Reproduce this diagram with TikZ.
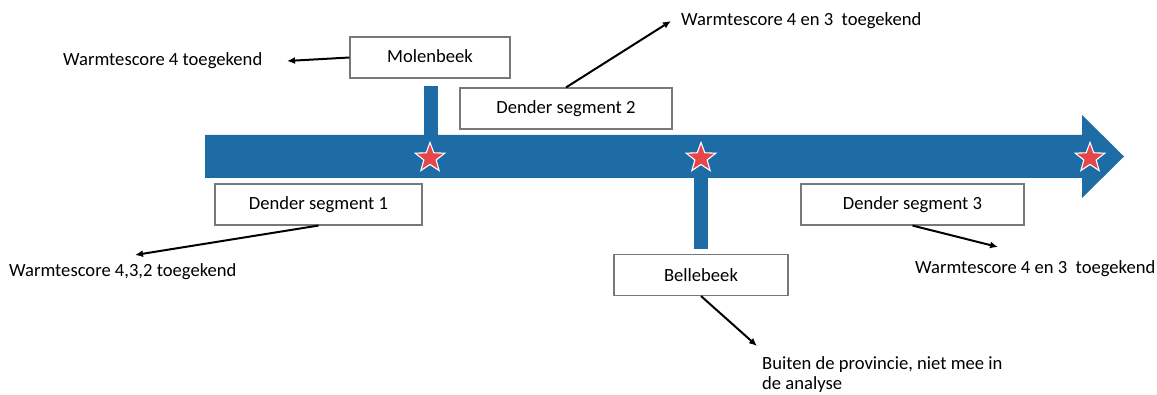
\documentclass[tikz,border=0pt]{standalone}
\usepackage{fontspec}
\setmainfont{Carlito}
\usetikzlibrary{shapes.geometric,arrows.meta}
\definecolor{rivierblauw}{RGB}{30,108,166}
\definecolor{sterrood}{RGB}{230,70,74}
\definecolor{kaderlijn}{RGB}{120,120,120}

\begin{document}
\begin{tikzpicture}[x=1pt,y=-1pt,
    >={Latex[length=8pt,width=7pt]},
    kader/.style={draw=kaderlijn,line width=1.1pt,fill=white,minimum height=41pt,inner sep=0pt,font=\fontsize{18.6}{20}\selectfont},
    uitleg/.style={inner sep=0pt,font=\fontsize{18.6}{20}\selectfont},
    ster/.style={star,star points=5,star point ratio=2.4,minimum size=31pt,inner sep=0pt,fill=sterrood,draw=white,line width=1.1pt},
    pijl/.style={->,line width=2pt}]
    \useasboundingbox (0,0) rectangle (1157,395);
    % de rivier
    \fill[rivierblauw] (205,135) -- (1082,135) -- (1082,115) -- (1124,156.5) -- (1082,198) -- (1082,178) -- (205,178) -- cycle;
    \fill[rivierblauw] (424,86) rectangle (438,136);
    \fill[rivierblauw] (694,177) rectangle (708,249);
    \node[ster] (s1) at (430,158) {};
    \node[ster] (s2) at (701,158) {};
    \node[ster] (s3) at (1090,158) {};

    % kaders
    \node[kader,minimum width=160pt] (molen) at (430,57.5) {\raisebox{3pt}{Molenbeek}};
    \node[kader,minimum width=212pt] (seg2) at (566,108.5) {Dender segment 2};
    \node[kader,minimum width=207pt] (seg1) at (318.5,204.5) {\raisebox{2pt}{Dender segment 1}};
    \node[kader,minimum width=223pt] (seg3) at (912.5,204.5) {\raisebox{2pt}{Dender segment 3}};
    \node[kader,minimum width=174pt] (belle) at (701,275) {Bellebeek};

    % uitleg
    \node[uitleg,anchor=west] (w4) at (63,61) {Warmtescore 4 toegekend};
    \node[uitleg,anchor=west] (w43a) at (681,21) {Warmtescore 4 en 3\ \ toegekend};
    \node[uitleg,anchor=west] (w432) at (9,272) {Warmtescore 4,3,2 toegekend};
    \node[uitleg,anchor=west] (w43b) at (915,269) {Warmtescore 4 en 3\ \ toegekend};
    \node[uitleg,anchor=west,align=left] (buiten) at (762,375) {Buiten de provincie, niet mee in\\de analyse};

    \coordinate (t1) at (287,61);
    \coordinate (t2) at (671,21);
    \coordinate (t3) at (135,255);
    \coordinate (t4) at (998,247);
    \coordinate (t5) at (757,346);
    \draw[pijl] (molen.west) -- (t1);
    \draw[pijl] (seg2.north) -- (t2);
    \draw[pijl] (seg1.south) -- (t3);
    \draw[pijl] (seg3.south) -- (t4);
    \draw[pijl] (belle.south) -- (t5);
\end{tikzpicture}
\end{document}
